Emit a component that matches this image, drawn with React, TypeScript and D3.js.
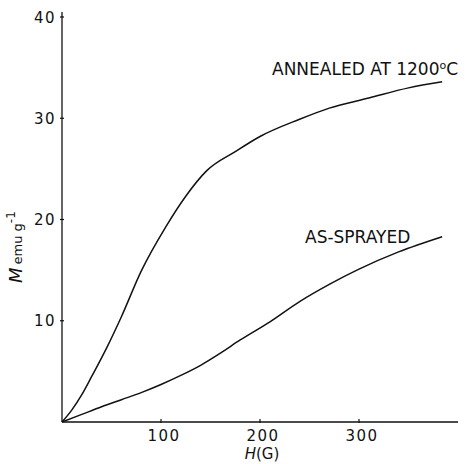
import { scaleLinear, line, curveMonotoneX } from 'd3';

// magnetization curves
const annealedH = [0, 10, 20, 30, 45, 60, 80, 105, 125, 146, 175, 200, 240, 270, 310, 350, 384];
const annealedM = [0, 1.2, 2.7, 4.5, 7.3, 10.4, 14.9, 19.3, 22.3, 24.8, 26.7, 28.2, 29.9, 31.0, 32.0, 33.0, 33.6];
const sprayedH = [0, 20, 40, 60, 80, 100, 120, 140, 160, 180, 210, 240, 270, 300, 340, 384];
const sprayedM = [0, 0.75, 1.5, 2.2, 2.9, 3.7, 4.6, 5.6, 6.8, 8.1, 9.9, 11.9, 13.6, 15.1, 16.8, 18.3];
const xTicks = [100, 200, 300];
const yTicks = [10, 20, 30, 40];

const W = 467;
const H = 464;
const font = 'DejaVu Sans, sans-serif';

export default function App() {
  const x = scaleLinear().domain([0, 400]).range([62, 458]);
  const y = scaleLinear().domain([0, 40]).range([422, 17]);

  const path = line<[number, number]>()
    .x(d => x(d[0]))
    .y(d => y(d[1]))
    .curve(curveMonotoneX);

  const annealed = annealedH.map((h, i) => [h, annealedM[i]] as [number, number]);
  const sprayed = sprayedH.map((h, i) => [h, sprayedM[i]] as [number, number]);

  return (
    <svg width={W} height={H} style={{ position: 'absolute', left: 0, top: 0, background: '#fff' }}>
      {/* axes */}
      <line x1={x(0)} x2={x(400)} y1={y(0)} y2={y(0)} stroke="#111" strokeWidth={1.3} />
      <line x1={x(0)} x2={x(0)} y1={y(0)} y2={y(40.5)} stroke="#111" strokeWidth={1.3} />
      {xTicks.map(t => (
        <g key={'x' + t}>
          <line x1={x(t)} x2={x(t)} y1={y(0) - 3} y2={y(0) + 1} stroke="#111" strokeWidth={1.2} />
          <text x={x(t) + 3} y={y(0) + 19} textAnchor="middle" fontFamily={font} fontSize={15}
            letterSpacing={1.5} fill="#111">{t}</text>
        </g>
      ))}
      {yTicks.map(t => (
        <g key={'y' + t}>
          <line x1={x(0) - 2} x2={x(0) + 2} y1={y(t)} y2={y(t)} stroke="#111" strokeWidth={1.2} />
          <text x={x(0) - 6} y={y(t) + 5.5} textAnchor="end" fontFamily={font} fontSize={15}
            letterSpacing={1.5} fill="#111">{t}</text>
        </g>
      ))}

      {/* curves */}
      <path d={path(annealed) ?? ''} fill="none" stroke="#111" strokeWidth={1.5} />
      <path d={path(sprayed) ?? ''} fill="none" stroke="#111" strokeWidth={1.5} />

      {/* curve labels */}
      <text x={272} y={75} fontFamily={font} fontSize={17} fill="#111">
        ANNEALED AT 1200<tspan fontSize={11} dy={-6}>o</tspan><tspan dy={6}>C</tspan>
      </text>
      <text x={305} y={243} fontFamily={font} fontSize={17} fill="#111">AS-SPRAYED</text>

      {/* axis titles */}
      <text x={262} y={459} textAnchor="middle" fontFamily={font} fontSize={15} fill="#111">
        <tspan fontStyle="italic">H</tspan>(G)
      </text>
      <text transform="translate(22,283) rotate(-90)" fontFamily={font} fill="#111">
        <tspan fontStyle="italic" fontSize={18}>M</tspan>
        <tspan fontSize={13} dx={3}>emu g</tspan>
        <tspan fontSize={12} dy={-7}>-1</tspan>
      </text>
    </svg>
  );
}
